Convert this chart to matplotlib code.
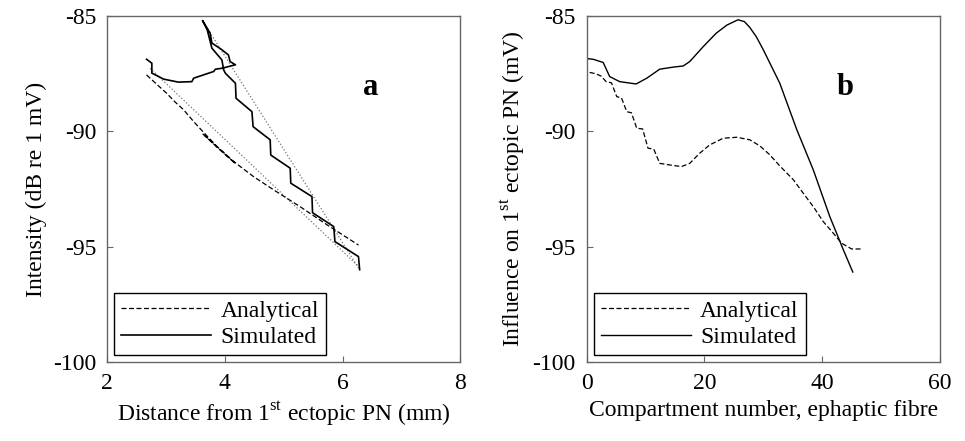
import matplotlib
matplotlib.use("Agg")
import matplotlib.pyplot as plt

plt.rcParams['font.family'] = ['Liberation Serif', 'DejaVu Serif']
plt.rcParams['mathtext.fontset'] = 'custom'
plt.rcParams['mathtext.rm'] = 'Liberation Serif'
plt.rcParams['font.size'] = 17
plt.rcParams['axes.unicode_minus'] = False

# panel a: distance (mm) vs intensity (dB)
a_sim_x = [2.67, 2.76, 2.76, 2.96, 3.21, 3.44, 3.47, 3.81, 3.84, 3.95, 4.18,
           4.09, 4.06, 3.95, 3.87, 3.78, 3.75, 3.62,
           3.70, 3.78, 3.95, 3.98, 4.01, 4.18, 4.19, 4.46, 4.48, 4.77, 4.78,
           5.11, 5.12, 5.48, 5.49, 5.85, 5.87, 6.27, 6.29]
a_sim_y = [-86.88, -87.05, -87.48, -87.74, -87.87, -87.85, -87.70, -87.41, -87.31, -87.27, -87.12,
           -86.98, -86.69, -86.47, -86.33, -86.18, -85.75, -85.2,
           -85.6, -86.4, -86.91, -87.34, -87.49, -87.92, -88.57, -89.15, -89.80, -90.37, -91.03,
           -91.60, -92.25, -92.83, -93.53, -94.13, -94.78, -95.43, -96.0]
a_ana_x = [2.67, 2.85, 3.01, 3.15, 3.30, 3.47, 3.64, 3.87, 4.03, 4.18, 3.87, 3.62,
           3.87, 4.15, 4.49, 4.83, 5.28, 5.74, 6.27]
a_ana_y = [-87.56, -87.98, -88.35, -88.72, -89.07, -89.58, -90.05, -90.67, -91.05, -91.40,
           -90.70, -90.10, -90.67, -91.31, -91.97, -92.54, -93.27, -94.06, -94.93]
a_fit1_x = [3.62, 6.29]
a_fit1_y = [-85.2, -96.0]
a_fit2_x = [2.73, 6.29]
a_fit2_y = [-87.27, -95.9]

# panel b: compartment vs influence (mV)
b_sim_x = [0, 1.1, 2.8, 3.9, 5.6, 8.4, 10.2, 12.4, 14.7, 16.4, 17.5, 19.8, 22.0,
           23.8, 25.7, 26.8, 27.7, 28.8, 30.0, 32.8, 35.7, 38.5, 41.3, 43.6, 45.2]
b_sim_y = [-86.85, -86.88, -87.02, -87.63, -87.85, -87.95, -87.7, -87.31, -87.22, -87.17,
           -86.98, -86.33, -85.75, -85.4, -85.17, -85.25, -85.5, -85.9, -86.47, -87.92,
           -89.94, -91.68, -93.7, -95.14, -96.1]
b_ana_x = [0.5, 1.4, 2.4, 3.3, 4.2, 5.1, 5.9, 6.8, 7.6, 8.5, 9.5, 10.4, 11.4, 12.4,
           14.1, 16.1, 17.5, 19.2, 20.9, 23.2, 25.5, 27.7, 29.4, 31.1, 32.8,
           35.1, 36.8, 38.5, 40.2, 41.9, 43.3, 45.0, 46.6]
b_ana_y = [-87.45, -87.5, -87.6, -87.85, -87.9, -88.5, -88.55, -89.15, -89.2, -89.87,
           -89.9, -90.73, -90.78, -91.39, -91.46, -91.53, -91.39, -90.95, -90.59,
           -90.3, -90.26, -90.37, -90.63, -91.02, -91.5, -92.1, -92.69, -93.27,
           -93.92, -94.42, -94.85, -95.1, -95.1]

fig = plt.figure(figsize=(9.65, 4.41), dpi=100)
ax1 = fig.add_axes([0.111, 0.179, 0.366, 0.785])
ax2 = fig.add_axes([0.608, 0.179, 0.366, 0.785])

ax1.plot(a_fit1_x, a_fit1_y, ':', color='0.45', lw=0.9)
ax1.plot(a_fit2_x, a_fit2_y, ':', color='0.45', lw=0.9)
ax1.plot(a_ana_x, a_ana_y, '--', color='k', lw=0.9, dashes=(4, 2), label='Analytical')
ax1.plot(a_sim_x, a_sim_y, '-', color='k', lw=1.2, label='Simulated')
ax1.set_xlim(2, 8)
ax1.set_xticks([2, 4, 6, 8])
ax1.set_xlabel('Distance from 1$^{\\mathrm{st}}$ ectopic PN (mm)')
ax1.set_ylabel('Intensity (dB re 1 mV)')
ax1.text(6.47, -88.1, 'a', fontsize=22, fontweight='bold', ha='center', va='center')

ax2.plot(b_ana_x, b_ana_y, '--', color='k', lw=0.9, dashes=(4, 2), label='Analytical')
ax2.plot(b_sim_x, b_sim_y, '-', color='k', lw=1.0, label='Simulated')
ax2.set_xlim(0, 60)
ax2.set_xticks([0, 20, 40, 60])
ax2.set_xlabel('Compartment number, ephaptic fibre')
ax2.set_ylabel('Influence on 1$^{\\mathrm{st}}$ ectopic PN (mV)')
ax2.text(43.9, -88.1, 'b', fontsize=22, fontweight='bold', ha='center', va='center')

for ax in (ax1, ax2):
    ax.set_ylim(-100, -85)
    ax.set_yticks([-100, -95, -90, -85])
    ax.tick_params(direction='in', length=4, width=0.8, color='0.4', pad=8)
    for s in ax.spines.values():
        s.set_color('0.4')
        s.set_linewidth(1.0)
    leg = ax.legend(loc='lower left', handlelength=3.8, handletextpad=0.4,
                    fancybox=False, edgecolor='k', framealpha=1,
                    borderaxespad=0.3, borderpad=0.3, labelspacing=0.2)
    leg.get_frame().set_linewidth(1.0)

fig.savefig('out.png', dpi=100)
